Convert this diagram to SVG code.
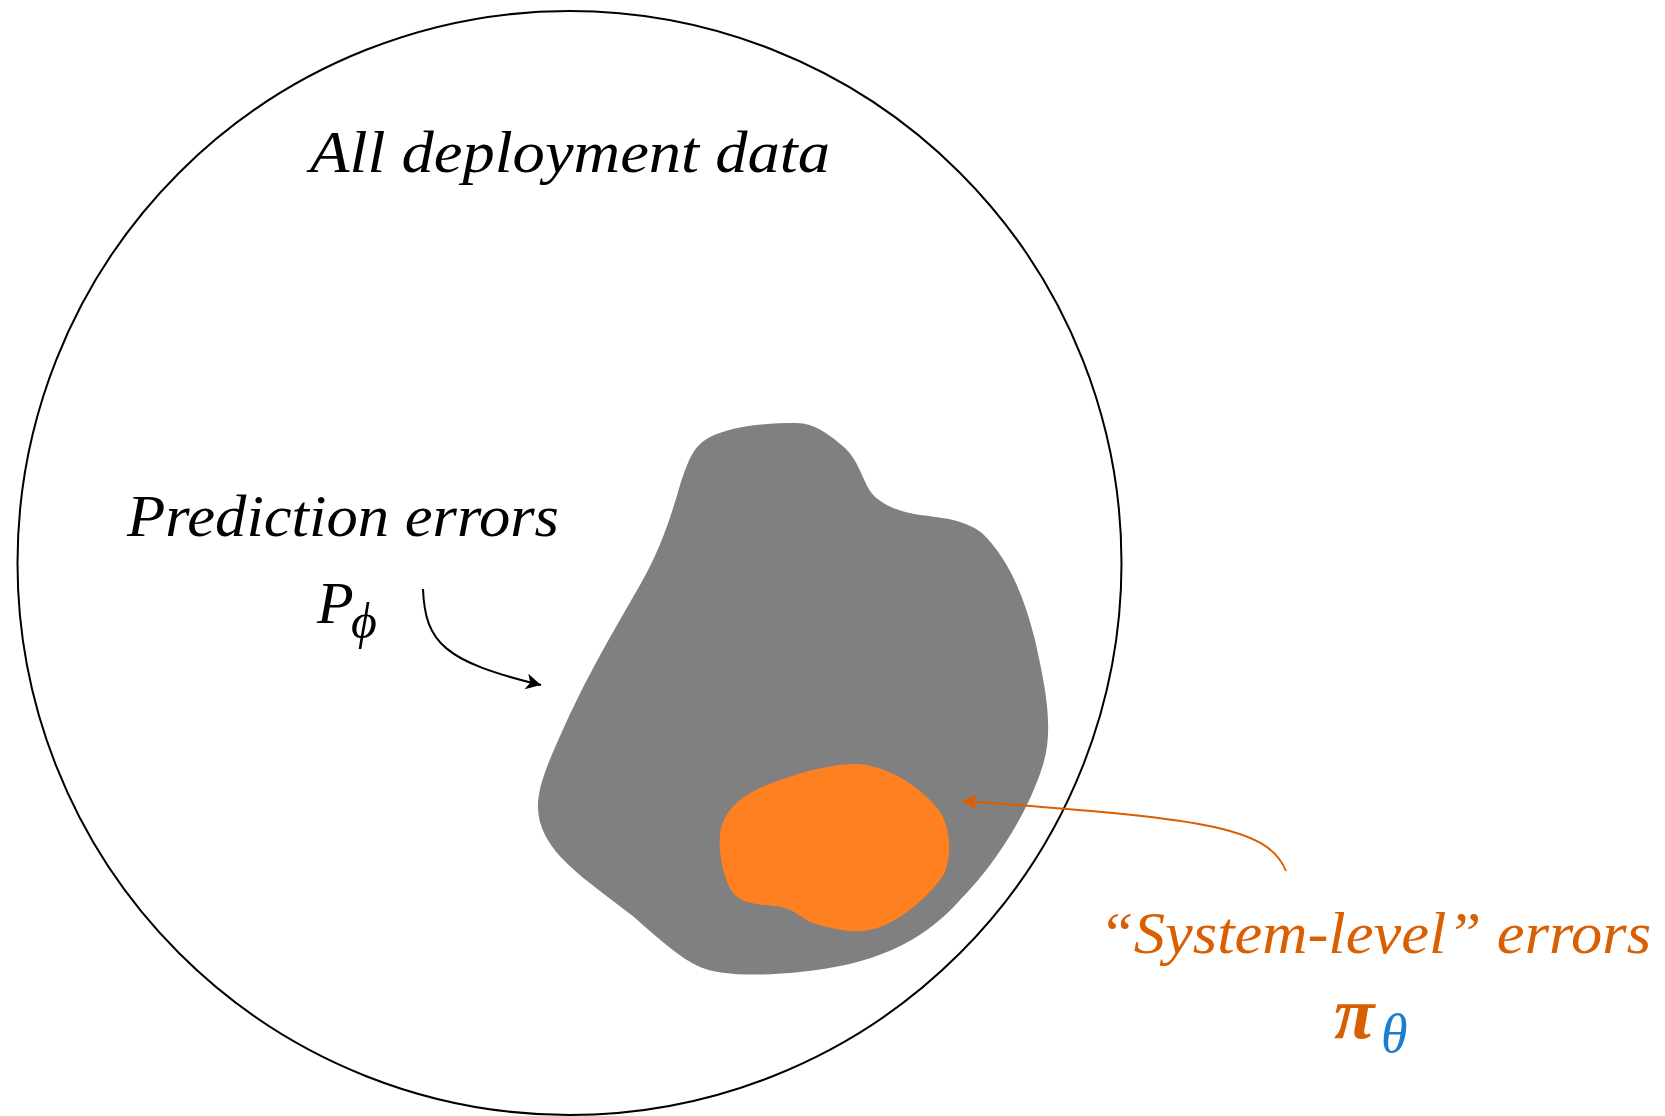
<svg xmlns="http://www.w3.org/2000/svg" width="1665" height="1116" viewBox="0 0 1665 1116">
<style>
.lbl{font-family:"Liberation Serif","DejaVu Serif",serif;font-style:italic;}
.blk{fill:#000;}
.org{fill:#D95F02;}
.blu{fill:#1C7CD0;}
.conn{fill:none;stroke-width:2;}
</style>
<defs>
<marker id="ahBlack" markerUnits="userSpaceOnUse" markerWidth="20" markerHeight="20" viewBox="-16 -10 20 20" refX="0" refY="0" orient="auto">
<path d="M0,0 L-15,-8 L-11,0 L-15,8 Z" fill="#000"/>
</marker>
<marker id="ahOrange" markerUnits="userSpaceOnUse" markerWidth="20" markerHeight="20" viewBox="-16 -10 20 20" refX="0" refY="0" orient="auto">
<path d="M0,0 L-15,-7.5 L-12,0 L-15,7.5 Z" fill="#D95F02"/>
</marker>
</defs>
<rect width="1665" height="1116" fill="#fff"/>
<g id="all-data">
<circle cx="569.5" cy="563" r="552" fill="none" stroke="#000" stroke-width="2"/>
<text class="lbl blk" x="310" y="172" font-size="60" textLength="520" lengthAdjust="spacingAndGlyphs">All deployment data</text>
</g>
<g id="prediction-errors">
<path fill="#808080" d="M796,423 C815,423 830,435 845,448 C858,460 862,478 870,491 C880,505 900,512 920,515 C945,518 965,520 982,533 C1010,560 1025,600 1035,640 C1045,685 1055,730 1042,768 C1025,820 990,870 960,900 C920,945 870,965 800,972 C760,976 720,976 700,967 C680,958 660,940 634,917 C600,890 560,865 545,835 C530,805 540,780 565,725 C590,670 620,620 640,585 C660,550 670,520 680,485 C690,455 695,445 710,437 C730,427 760,423 796,423 Z"/>
<text class="lbl blk" x="127" y="536" font-size="60" textLength="432" lengthAdjust="spacingAndGlyphs">Prediction errors</text>
<text class="lbl blk" x="317" y="623" font-size="60">P</text>
<text class="lbl blk" x="351" y="638" font-size="50">ϕ</text>
</g>
<g id="system-errors">
<path fill="#FE8020" d="M858,764 C895,767 930,795 942,815 C952,835 952,865 940,880 C925,900 895,925 870,930 C850,934 830,928 813,923 C800,918 795,908 775,906 C755,904 745,904 735,895 C725,885 718,855 720,835 C722,815 735,800 760,788 C790,775 830,763 858,764 Z"/>
<text class="lbl org" x="1099" y="953" font-size="60" textLength="552" lengthAdjust="spacingAndGlyphs">“System-level” errors</text>
<text class="lbl org" x="1334" y="1038" font-size="74" font-weight="bold">π</text>
<text class="lbl blu" x="1381" y="1052" font-size="54">θ</text>
</g>
<g id="connectors">
<path class="conn" stroke="#000" d="M423,589 C425,643 445,662 541,685" marker-end="url(#ahBlack)"/>
<path class="conn" stroke="#D95F02" d="M1286,871 C1268,826 1200,818 962,801" marker-end="url(#ahOrange)"/>
</g>
</svg>
